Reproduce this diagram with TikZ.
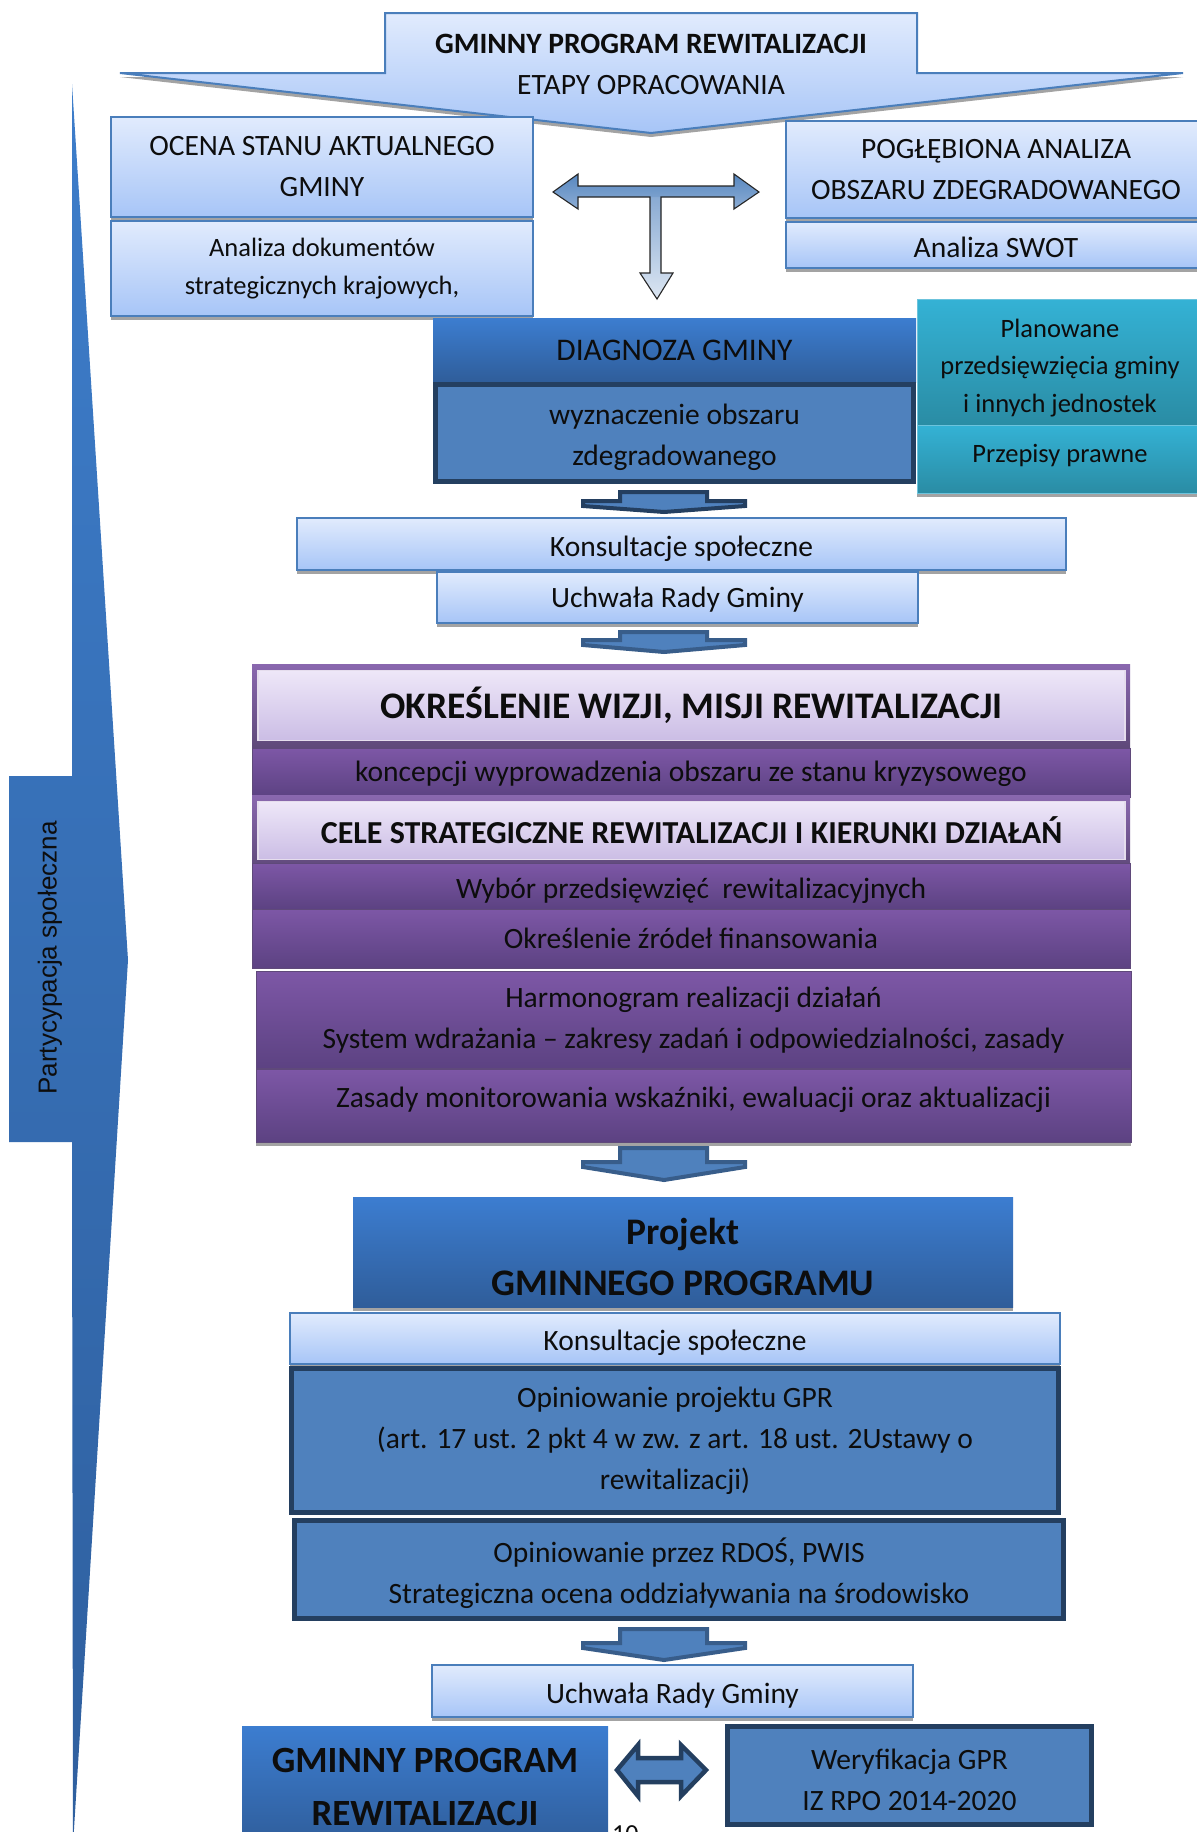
\documentclass[tikz,border=0pt]{standalone}
\usepackage{fontspec}
\setmainfont{Carlito}
\newfontfamily\partfont{Liberation Sans}
\usetikzlibrary{shadows}
\definecolor{txt}{HTML}{0D0D0D}
\definecolor{lbord}{HTML}{4A7EBB}
\definecolor{ltop}{HTML}{E1EBFD}
\definecolor{lbot}{HTML}{A7C5F7}
\definecolor{shgray}{HTML}{A3A3A3}
\definecolor{dfill}{HTML}{4F81BD}
\definecolor{dbord}{HTML}{243F60}
\definecolor{abord}{HTML}{385D8A}
\definecolor{btop}{HTML}{3C7DD0}
\definecolor{bbot}{HTML}{2F5D9A}
\definecolor{ptop}{HTML}{7D57A6}
\definecolor{pbot}{HTML}{5C4282}
\definecolor{pbord}{HTML}{5F497A}
\definecolor{vtop}{HTML}{EEE7F8}
\definecolor{vbot}{HTML}{CBBDE5}
\definecolor{ttop}{HTML}{34B2D5}
\definecolor{tbot}{HTML}{2A8CA4}
\definecolor{tbord}{HTML}{6CC3DC}
\definecolor{ptA}{HTML}{3D7DCA}
\definecolor{ptB}{HTML}{2F5F9E}
\newcommand{\myfN}{\fontsize{29.5}{41}\selectfont}
\newcommand{\myfB}{\bfseries\fontsize{29.5}{41}\selectfont}
\newcommand{\blkdown}[5]{%
  \draw[#1] (620,#2) -- (707,#2) -- (707,#3) -- (745,#3) -- (745,#4) -- (664,#5) -- (583,#4) -- (583,#3) -- (620,#3) -- cycle;}
\begin{document}
\begin{tikzpicture}[x=1pt,y=-1pt,
  shd/.style={drop shadow={shadow xshift=0pt,shadow yshift=-4pt,fill=shgray,opacity=1}},
  base/.style={inner sep=0pt, align=center, text=txt, font=\myfN},
  low/.style={text height=#1, text depth=0pt},
  lbox/.style={base, shd, draw=lbord, line width=1.6pt, top color=ltop, bottom color=lbot},
  dbox/.style={base, draw=dbord, line width=5pt, fill=dfill},
  bbox/.style={base, top color=btop, bottom color=bbot},
  pbox/.style={base, draw=pbord, line width=1pt, top color=ptop, bottom color=pbot},
  pframe/.style={inner sep=0pt, top color=ptop!90!white, bottom color=pbord},
  vbox/.style={base, font=\myfB, draw=white!80!ptop, line width=1.5pt, top color=vtop, bottom color=vbot},
  tbox/.style={base, draw=tbord, line width=1pt, top color=ttop, bottom color=tbot, font=\fontsize{26.5}{37.5}\selectfont},
  arrA/.style={draw=dbord, line width=4pt, fill=dfill, line join=miter},
  arrB/.style={draw=abord, line width=4pt, fill=dfill, line join=miter}]
\useasboundingbox (0,0) rectangle (1197,1832);
\fill[white] (0,0) rectangle (1197,1832);

% Partycypacja spoleczna
\path[top color=ptA, bottom color=ptB] (72,84) -- (128,960) -- (73,1845) -- (72,1142) -- (9,1142) -- (9,776) -- (72,776) -- cycle;
\node[rotate=90, inner sep=0pt, text=txt, font=\partfont\fontsize{26}{30}\selectfont] (part) at (50,958) {Partycypacja społeczna};

% top arrow
\path[shd, draw=lbord, line width=2pt, top color=ltop, bottom color=lbot]
  (385,13) -- (917,13) -- (917,73) -- (1183,73) -- (651,133) -- (120,73) -- (385,73) -- cycle;
\node[base] (title) at (651,64) {{\myfB GMINNY PROGRAM REWITALIZACJI}\\ETAPY OPRACOWANIA};

% upper boxes
\node[lbox, minimum width=422, minimum height=100] (ocena) at (322,167) {OCENA STANU AKTUALNEGO\\GMINY};
\node[lbox, minimum width=422, minimum height=95, font=\fontsize{26.5}{38.5}\selectfont] (analiza) at (322,268.5) {Analiza dokumentów\\strategicznych krajowych,};
\node[lbox, minimum width=420, minimum height=97] (poglebiona) at (996,169.5) {POGŁĘBIONA ANALIZA\\OBSZARU ZDEGRADOWANEGO};
\node[lbox, low=24pt, minimum width=420, minimum height=46] (swot) at (996,245) {Analiza SWOT};

% T arrow
\path[top color=white!30!dfill, bottom color=white!80!dfill]
  (650,190) -- (661,190) -- (661,273) -- (673,273) -- (657,299) -- (640,273) -- (650,273) -- cycle;
\path[top color=white!5!dfill, bottom color=white!35!dfill]
  (553,192) -- (578,174) -- (578,186) -- (734,186) -- (734,174) -- (759,192) -- (734,209) -- (734,197) -- (578,197) -- (578,209) -- cycle;
\draw[black!85, line width=1.1pt, line join=miter]
  (553,192) -- (578,174) -- (578,186) -- (734,186) -- (734,174) -- (759,192) -- (734,209) -- (734,197) -- (661,197) -- (661,273) -- (673,273) -- (657,299) -- (640,273) -- (650,273) -- (650,197) -- (578,197) -- (578,209) -- cycle;

% teal boxes
\node[tbox, minimum width=286, minimum height=126] (planowane) at (1060,362) {};
\node[base, font=\fontsize{26.5}{37.5}\selectfont] (planowaneT) at (1060,368) {Planowane\\przedsięwzięcia gminy\\i innych jednostek};
\node[tbox, shd, low=7pt, minimum width=286, minimum height=68] (przepisy) at (1060,459) {Przepisy prawne};

% diagnoza
\node[bbox, minimum width=483, minimum height=64, font=\fontsize{31.5}{41}\selectfont] (diagnoza) at (674.5,350) {DIAGNOZA GMINY};
\node[dbox, minimum width=478, minimum height=97] (wyznaczenie) at (674.5,432.5) {};
\node[base] (wyznaczenieT) at (674.5,437.5) {wyznaczenie obszaru\\zdegradowanego};

\blkdown{arrA}{492}{501}{506}{512}

\node[lbox, low=24pt, minimum width=769, minimum height=52] (konsult1) at (681.5,544) {Konsultacje społeczne};
\node[lbox, low=20pt, minimum width=481, minimum height=51] (uchwala1) at (677.5,597.5) {Uchwała Rady Gminy};

\blkdown{arrB}{632}{640}{645}{652}

% purple stack
\node[pframe, shd, minimum width=878, minimum height=83] (okrF) at (691,705.5) {};
\node[vbox, minimum width=867, minimum height=70, font=\bfseries\fontsize{37.5}{41}\selectfont] (okr) at (691.5,705.5) {OKREŚLENIE WIZJI, MISJI REWITALIZACJI};
\node[pbox, low=17pt, minimum width=878, minimum height=49] (koncepcji) at (691,772.5) {koncepcji wyprowadzenia obszaru ze stanu kryzysowego};
\node[pframe, minimum width=878, minimum height=74] (celeF) at (691,832) {};
\node[vbox, minimum width=867, minimum height=58, font=\bfseries\fontsize{32}{41}\selectfont] (cele) at (691.5,830.5) {CELE STRATEGICZNE REWITALIZACJI I KIERUNKI DZIAŁAŃ};
\node[pbox, low=24pt, minimum width=878, minimum height=46] (wybor) at (691,886) {Wybór przedsięwzięć~ rewitalizacyjnych};
\node[pbox, minimum width=878, minimum height=59] (zrodla) at (691,938.5) {Określenie źródeł finansowania};
\node[pbox, minimum width=875, minimum height=97] (harmonogram) at (693.5,1020) {Harmonogram realizacji działań\\System wdrażania – zakresy zadań i odpowiedzialności, zasady};
\node[pbox, shd, low=3pt, minimum width=875, minimum height=73] (zasady) at (693.5,1105.5) {Zasady monitorowania wskaźniki, ewaluacji oraz aktualizacji};

\blkdown{arrB}{1148}{1162}{1167}{1180}

% projekt
\node[bbox, shd, minimum width=660, minimum height=110] (projekt) at (683,1252) {};
\node[base, font=\bfseries\fontsize{37.5}{51}\selectfont] (projektT) at (683,1257) {Projekt\\GMINNEGO PROGRAMU};
\node[lbox, low=24pt, minimum width=770, minimum height=51] (konsult2) at (675,1338.5) {Konsultacje społeczne};
\node[dbox, minimum width=767, minimum height=144] (opin1) at (675,1440.5) {Opiniowanie projektu GPR\\(art. 17 ust. 2 pkt 4 w zw. z art. 18 ust. 2Ustawy o\\rewitalizacji)};
\node[dbox, minimum width=769, minimum height=98] (opin2) at (679,1569.5) {};
\node[base] (opin2T) at (679,1573.5) {Opiniowanie przez RDOŚ, PWIS\\Strategiczna ocena oddziaływania na środowisko};

\blkdown{arrB}{1629}{1643}{1648}{1660}

\node[lbox, low=24pt, minimum width=481, minimum height=52] (uchwala2) at (672.5,1691) {Uchwała Rady Gminy};

% bottom row
\node[bbox, minimum width=366, minimum height=121, font=\bfseries\fontsize{37}{53}\selectfont] (gpr) at (425,1786.5) {GMINNY PROGRAM\\REWITALIZACJI};
\draw[draw=dbord, line width=4.5pt, fill=dfill, line join=miter]
  (617,1770) -- (638,1745) -- (638,1758) -- (681,1758) -- (681,1745) -- (706,1770) -- (681,1796) -- (681,1782) -- (638,1782) -- (638,1796) -- cycle;
\node[dbox, minimum width=364, minimum height=98] (weryf) at (909.5,1775.5) {};
\node[base] (weryfT) at (909.5,1779.5) {Weryfikacja GPR\\IZ RPO 2014-2020};

\node[anchor=north west, inner sep=0pt, text=txt, font=\fontsize{26}{30}\selectfont] (pg) at (612,1825) {10};
\end{tikzpicture}
\end{document}
